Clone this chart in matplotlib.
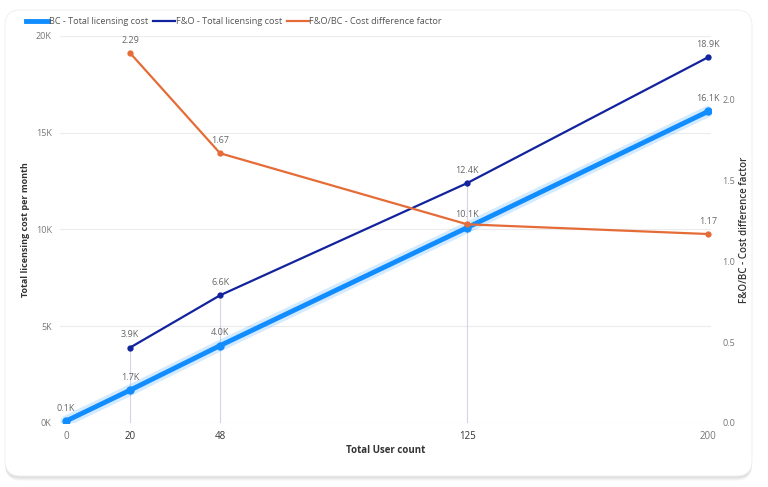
import matplotlib
matplotlib.use("Agg")
import matplotlib.pyplot as plt
from matplotlib.patches import FancyBboxPatch
from matplotlib.lines import Line2D

users = [0, 20, 48, 125, 200]
bc_cost = [100, 1700, 4000, 10100, 16100]
bc_labels = ["0.1K", "1.7K", "4.0K", "10.1K", "16.1K"]
fo_users = [20, 48, 125, 200]
fo_cost = [3900, 6600, 12400, 18900]
fo_labels = ["3.9K", "6.6K", "12.4K", "18.9K"]
factor_users = [20, 48, 125, 200]
factor = [2.29, 1.67, 1.23, 1.17]
factor_labels = ["2.29", "1.67", "", "1.17"]
y_ticks = [0, 5000, 10000, 15000, 20000]
y_ticklabels = ["0K", "5K", "10K", "15K", "20K"]
y2_ticks = [0.0, 0.5, 1.0, 1.5, 2.0]

C_BC = "#118DFF"
C_FO = "#12239E"
C_FA = "#E66C37"
GRAY = "#666666"

plt.rcParams['font.family'] = ['Open Sans', 'DejaVu Sans']

W, H = 768, 487
fig = plt.figure(figsize=(W / 100, H / 100), dpi=100)
fig.patch.set_facecolor("white")

# card with shadow
for i in range(4):
    off = (i + 1) * 1.5
    sh = FancyBboxPatch((5 / W, (H - 477 - off * 0.6) / H), 747 / W, 466 / H,
                        boxstyle="round,pad=0,rounding_size=0.02",
                        transform=fig.transFigure, facecolor="black", alpha=0.03,
                        edgecolor="none", zorder=-10, mutation_aspect=W / H)
    fig.patches.append(sh)
card = FancyBboxPatch((5 / W, (H - 476) / H), 747 / W, 466 / H,
                      boxstyle="round,pad=0,rounding_size=0.02",
                      transform=fig.transFigure, facecolor="white",
                      edgecolor="#eeeeee", lw=0.6, zorder=-5, mutation_aspect=W / H)
fig.patches.append(card)

px = 3.21
x0 = 66
left_px = 60
right_px = 711
ax = fig.add_axes([left_px / W, (H - 423) / H, (right_px - left_px) / W, (423 - 36) / H])
ax.set_facecolor("none")
ax.set_xlim((left_px - x0) / px, (right_px - x0) / px)
ax.set_ylim(0, 20000)

for s in ax.spines.values():
    s.set_visible(False)

for t in y_ticks:
    ax.axhline(t, color="#ececec", lw=0.8, zorder=0)

# drop lines
for u, v in zip(fo_users[:-1], fo_cost[:-1]):
    ax.vlines(u, 0, v, color="#d4d6e6", lw=0.8, zorder=1)

# BC glow line
ax.plot(users, bc_cost, color=C_BC, lw=8, alpha=0.18, zorder=3, solid_capstyle="round")
ax.plot(users, bc_cost, color=C_BC, lw=3.5, zorder=4, marker="o", ms=5, solid_capstyle="round")
ax.plot(fo_users, fo_cost, color=C_FO, lw=1.6, zorder=5, marker="o", ms=3.5)

ax2 = ax.twinx()
ax2.set_ylim(0, 2.396)
ax2.plot(factor_users, factor, color=C_FA, lw=1.6, zorder=5, marker="o", ms=3.5)
for s in ax2.spines.values():
    s.set_visible(False)

for u, v, l in zip(users, bc_cost, bc_labels):
    ax.annotate(l, (u, v), xytext=(0, 6), textcoords="offset points", ha="center",
                va="bottom", fontsize=6.5, color=GRAY, zorder=6)
for u, v, l in zip(fo_users, fo_cost, fo_labels):
    ax.annotate(l, (u, v), xytext=(0, 6), textcoords="offset points", ha="center",
                va="bottom", fontsize=6.5, color=GRAY, zorder=6)
for u, v, l in zip(factor_users, factor, factor_labels):
    if l:
        ax2.annotate(l, (u, v), xytext=(0, 6), textcoords="offset points", ha="center",
                     va="bottom", fontsize=6.5, color=GRAY, zorder=6)

ax.set_yticks(y_ticks)
ax.set_yticklabels(y_ticklabels)
ax.tick_params(axis="y", length=0, labelsize=6.5, labelcolor="#777777", pad=6)
ax.set_xticks(users)
ax.set_xticklabels([str(u) for u in users])
ax.tick_params(axis="x", length=0, labelsize=7, labelcolor="#777777", pad=6)
for lab, u in zip(ax.get_xticklabels(), users):
    if u in (20, 48, 125):
        lab.set_color("#333333")

ax2.set_yticks(y2_ticks)
ax2.set_yticklabels([f"{v:.1f}" for v in y2_ticks])
ax2.tick_params(axis="y", length=0, labelsize=6.5, labelcolor="#777777", pad=8)

ax.set_xlabel("Total User count", fontsize=7, fontweight="bold", color="#333333", labelpad=2)
ax.set_ylabel("Total licensing cost per month", fontsize=6.5, fontweight="bold", color="#333333", labelpad=4)
ax2.set_ylabel("F&O/BC - Cost difference factor", fontsize=7, fontweight="semibold", color="#333333", labelpad=3)

handles = [Line2D([], [], color=C_BC, lw=3.5),
           Line2D([], [], color=C_FO, lw=1.6),
           Line2D([], [], color=C_FA, lw=1.6)]
labels = ["BC - Total licensing cost", "F&O - Total licensing cost", "F&O/BC - Cost difference factor"]
fig.legend(handles, labels, loc="upper left", bbox_to_anchor=(18 / W, 1 - 9 / H), ncol=3,
           frameon=False, fontsize=6.6, handlelength=2.4, handletextpad=0.1,
           columnspacing=0.5, labelcolor="#555555")

fig.savefig("out.png", dpi=100)
